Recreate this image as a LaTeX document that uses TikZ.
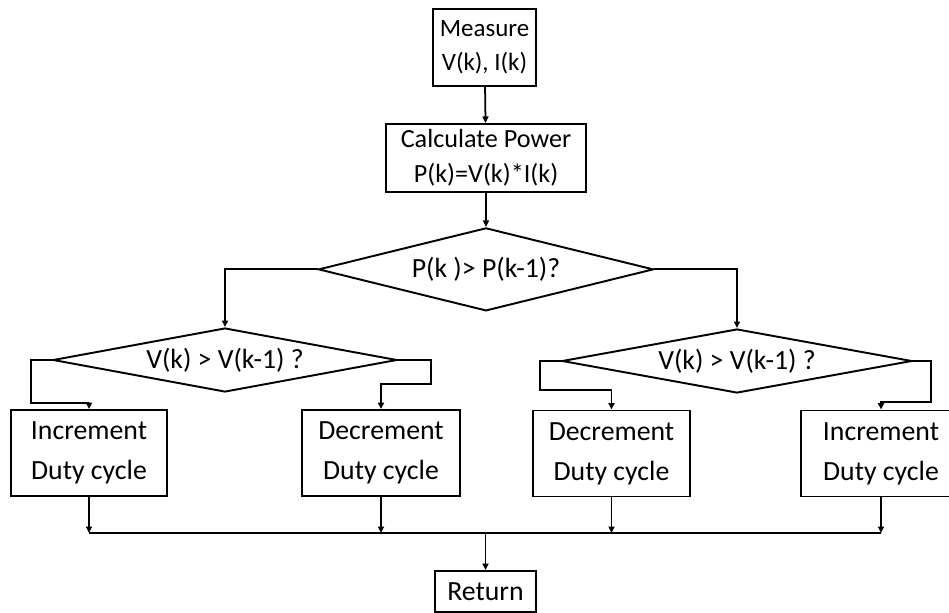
\documentclass[tikz,border=0pt]{standalone}
\usepackage{fontspec}
\setmainfont{Carlito}
\usepackage{tikz}
\usetikzlibrary{shapes.geometric, arrows.meta, positioning, calc}

\begin{document}
\begin{tikzpicture}[
    node distance=0.7cm and 0.4cm,
    every node/.style={font=\fontsize{15.8}{22.7}\selectfont},
    box/.style={rectangle, draw, line width=1.1pt, fill=white, minimum width=#1, minimum height=1.72cm, align=center, inner sep=1pt},
    decision/.style={diamond, draw, line width=1.1pt, minimum width=#1, minimum height=1.28cm, aspect=5, inner sep=0pt},
    arrow/.style={-{Triangle[length=1.3mm, width=1.2mm]}, line width=1pt},
    link/.style={line width=1.1pt}
]
\useasboundingbox (0,0) rectangle (18.98,-12.26);
\node[box=2.06cm, minimum height=1.54cm, font=\fontsize{14.2}{19.3}\selectfont] (measure) at (9.69,-0.95) {Measure\\V(k), I(k)};
\node[box=4.0cm, minimum height=1.36cm, font=\fontsize{14.9}{19.8}\selectfont, below=0.72cm of measure, xshift=0.03cm] (calc) {Calculate Power\\P(k)=V(k)*I(k)};
\node[decision=6.7cm, minimum height=1.66cm, aspect=4, below=0.68cm of calc] (cmpP) {P(k )> P(k-1)?};
\node[decision=6.88cm] (cmpVL) at (4.5,-7.2) {V(k) > V(k-1) ?};
\node[decision=7.0cm] (cmpVR) at (14.74,-7.22) {V(k) > V(k-1) ?};
\node[box=3.12cm] (incL) at (1.78,-9.06) {Increment\\Duty cycle};
\node[box=3.16cm] (decL) at (7.62,-9.06) {Decrement\\Duty cycle};
\node[box=3.14cm] (decR) at (12.23,-9.07) {Decrement\\Duty cycle};
\node[box=3.2cm] (incR) at (17.62,-9.07) {Increment\\Duty cycle};
\node[box=2.02cm, minimum height=0.82cm] (ret) at (9.71,-11.83) {Return};
\coordinate (bus) at (9.71,-10.66);
% main spine
\draw[arrow] (measure) -- (calc);
\draw[arrow] (calc) -- (cmpP);
\draw[arrow] (cmpP.west) -| (cmpVL.north);
\draw[arrow] (cmpP.east) -| (cmpVR.north);
% branches to the duty cycle boxes
\draw[arrow] (cmpVL.west) -- ++(-0.42,0) -- ++(0,-0.86) -| (incL.north);
\draw[arrow] (cmpVL.east) -- ++(0.66,0) -- ++(0,-0.48) -| (decL.north);
\draw[arrow] (cmpVR.west) -- ++(-0.42,0) -- ++(0,-0.58) -| (decR.north);
\draw[arrow] (cmpVR.east) -- ++(0.36,0) -- ++(0,-0.82) -| (incR.north);
% collect into return
\foreach \b in {incL, decL, decR, incR}
    \draw[arrow] (\b.south) -- (\b.south |- bus);
\draw[link] (incL.south |- bus) -- (incR.south |- bus);
\draw[arrow] (bus) -- (ret.north);
\end{tikzpicture}
\end{document}
